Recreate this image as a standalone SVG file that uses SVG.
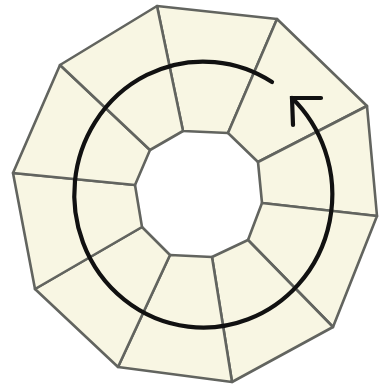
<svg xmlns="http://www.w3.org/2000/svg" width="380" height="387" viewBox="0 0 380 387">
<style>
.seg{fill:#f8f6e3;stroke:#62645f;stroke-width:2.6;stroke-linejoin:round}
.arr{fill:none;stroke:#111;stroke-width:4.2;stroke-linecap:round;stroke-linejoin:miter}
</style>
<rect width="380" height="387" fill="#fff"/>
<g id="segment-1"><polygon class="seg" points="157,6 277,19 228,133 183,131"/></g>
<g id="segment-2"><polygon class="seg" points="277,19 367,106 258,162 228,133"/></g>
<g id="segment-3"><polygon class="seg" points="367,106 377,216 262,203 258,162"/></g>
<g id="segment-4"><polygon class="seg" points="377,216 333,327 248,240 262,203"/></g>
<g id="segment-5"><polygon class="seg" points="333,327 232,382 212,257 248,240"/></g>
<g id="segment-6"><polygon class="seg" points="232,382 118,367 170,255 212,257"/></g>
<g id="segment-7"><polygon class="seg" points="118,367 35,289 142,227 170,255"/></g>
<g id="segment-8"><polygon class="seg" points="35,289 13,173 135,185 142,227"/></g>
<g id="segment-9"><polygon class="seg" points="13,173 60,65 150,150 135,185"/></g>
<g id="segment-10"><polygon class="seg" points="60,65 157,6 183,131 150,150"/></g>
<g id="connectors">
<path class="arr" d="M272,82 A129,133 0 1 0 292,98"/>
<polyline class="arr" points="321,98 292,98 293,125"/>
</g>
</svg>
